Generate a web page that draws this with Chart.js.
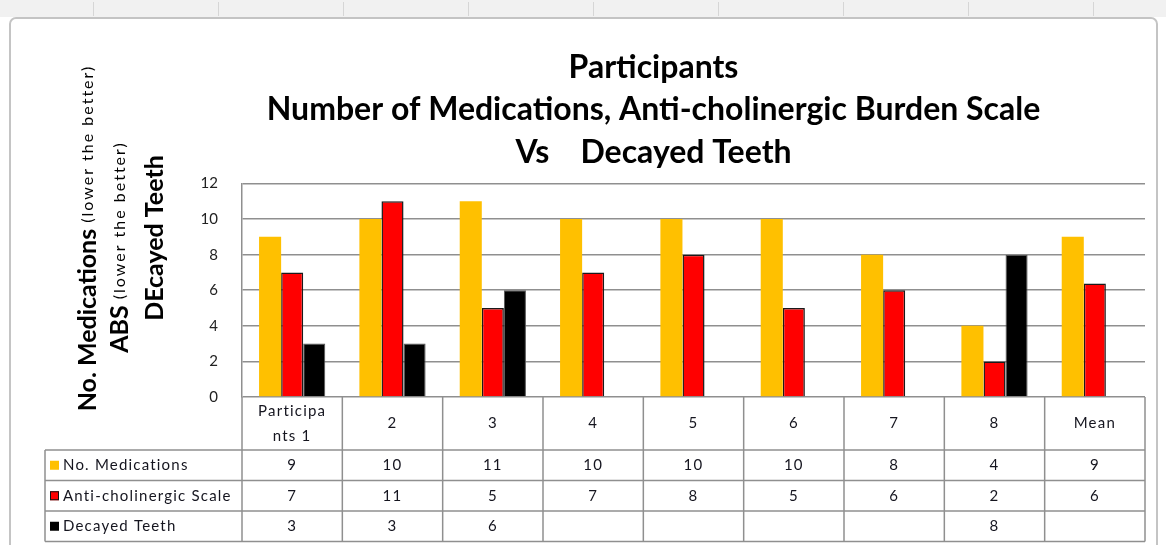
<!DOCTYPE html>
<html>
<head>
<meta charset="utf-8">
<script src="https://cdn.jsdelivr.net/npm/chart.js@4.4.0/dist/chart.umd.min.js"></script>
<style>
html, body { margin: 0; padding: 0; background: #fff; }
#wrap { position: relative; width: 1166px; height: 545px; }
</style>
</head>
<body>
<div id="wrap"><canvas id="chart" width="1166" height="545"></canvas></div>
<script>
// data
const categories = [['Participa', 'nts 1'], '2', '3', '4', '5', '6', '7', '8', 'Mean'];
const seriesNames = ['No. Medications', 'Anti-cholinergic Scale', 'Decayed Teeth'];
const medications = [9, 10, 11, 10, 10, 10, 8, 4, 9];
const absScale = [7, 11, 5, 7, 8, 5, 6, 2, 6.375];
const decayedTeeth = [3, 3, 6, null, null, null, null, 8, null];
const titleLines = ['Participants', 'Number of Medications, Anti-cholinergic Burden Scale', 'Vs    Decayed Teeth'];
const yMax = 12;
const yStep = 2;

const seriesColors = ['#ffc000', '#ff0000', '#000000'];
const seriesBorders = ['#ffc000', '#1a1a1a', '#555555'];
const FONT = 'Lato, "Open Sans", sans-serif';
const gridColor = '#8f8f8f';
const textColor = '#15151f';

// background frame, like the excel chart area
const framePlugin = {
    id: 'frame',
    beforeDraw(chart) {
        const ctx = chart.ctx;
        ctx.save();
        ctx.fillStyle = '#fff';
        ctx.fillRect(0, 0, chart.width, chart.height);
        ctx.fillStyle = '#f1f1f1';
        ctx.fillRect(0, 0, chart.width, 17);
        ctx.strokeStyle = '#d6d6d6';
        ctx.lineWidth = 1;
        for (let x = 93; x < chart.width; x += 125) {
            ctx.beginPath();
            ctx.moveTo(x + 0.5, 2);
            ctx.lineTo(x + 0.5, 16);
            ctx.stroke();
        }
        ctx.strokeStyle = '#c4c4c4';
        ctx.lineWidth = 2;
        ctx.beginPath();
        ctx.roundRect(10, 18, 1147, 540, 6);
        ctx.stroke();
        ctx.restore();
    }
};

// rotated axis titles with mixed font sizes
const yTitlePlugin = {
    id: 'yTitles',
    afterDraw(chart) {
        const ctx = chart.ctx;
        const big = 'bold 25px ' + FONT;
        const small = '16px ' + FONT;
        const lines = [
            { x: 88, cy: 238, parts: [[big, 'No. Medications', 0], [small, ' (lower the better)', 2]] },
            { x: 120, cy: 247, parts: [[big, 'ABS', 0], [small, ' (lower the better)', 2]] },
            { x: 155, cy: 238, parts: [[big, 'DEcayed Teeth', 0]] }
        ];
        ctx.save();
        ctx.fillStyle = '#000';
        ctx.textBaseline = 'middle';
        ctx.textAlign = 'left';
        const setFont = (p) => { ctx.font = p[0]; ctx.letterSpacing = p[2] + 'px'; };
        for (const ln of lines) {
            let total = 0;
            for (const p of ln.parts) { setFont(p); total += ctx.measureText(p[1]).width; }
            ctx.save();
            ctx.translate(ln.x, ln.cy);
            ctx.rotate(-Math.PI / 2);
            let pos = -total / 2;
            for (const p of ln.parts) {
                setFont(p);
                ctx.fillText(p[1], pos, 0);
                pos += ctx.measureText(p[1]).width;
            }
            ctx.restore();
        }
        ctx.restore();
    }
};

// data table under the plot
const tablePlugin = {
    id: 'dataTable',
    afterDraw(chart) {
        const ctx = chart.ctx;
        const xs = chart.scales.x;
        const area = chart.chartArea;
        const n = categories.length;
        const colW = (area.right - area.left) / n;
        const top = area.bottom;
        const headBottom = top + 53;
        const rowH = 30.5;
        const bottom = headBottom + rowH * 3;
        const labelLeft = 45;

        ctx.save();
        ctx.strokeStyle = gridColor;
        ctx.lineWidth = 1.5;
        for (let i = 0; i <= n; i++) {
            const x = area.left + i * colW;
            ctx.beginPath();
            ctx.moveTo(x, top);
            ctx.lineTo(x, bottom);
            ctx.stroke();
        }
        ctx.beginPath();
        ctx.moveTo(labelLeft, headBottom);
        ctx.lineTo(labelLeft, bottom);
        ctx.stroke();
        for (let r = 0; r <= 3; r++) {
            const y = headBottom + r * rowH;
            ctx.beginPath();
            ctx.moveTo(labelLeft, y);
            ctx.lineTo(area.right, y);
            ctx.stroke();
        }

        ctx.fillStyle = textColor;
        ctx.font = '15px ' + FONT;
        ctx.letterSpacing = '1.2px';
        ctx.textAlign = 'center';
        ctx.textBaseline = 'middle';
        categories.forEach((lab, i) => {
            const cx = xs.getPixelForValue(i);
            const parts = Array.isArray(lab) ? lab : [lab];
            const lh = 25;
            parts.forEach((t, k) => {
                ctx.fillText(t, cx, top + 53 / 2 + (k - (parts.length - 1) / 2) * lh);
            });
        });

        const series = [medications, absScale, decayedTeeth];
        series.forEach((vals, r) => {
            const cy = headBottom + r * rowH + rowH / 2;
            // legend key
            ctx.fillStyle = seriesColors[r];
            ctx.fillRect(labelLeft + 5, cy - 4.5, 9, 9);
            if (r === 1) {
                ctx.strokeStyle = '#111';
                ctx.lineWidth = 1;
                ctx.strokeRect(labelLeft + 5.5, cy - 4, 8, 8);
            }
            ctx.fillStyle = textColor;
            ctx.textAlign = 'left';
            ctx.fillText(seriesNames[r], labelLeft + 18, cy);
            ctx.textAlign = 'center';
            vals.forEach((v, i) => {
                if (v === null) return;
                ctx.fillText(String(Math.round(v)), xs.getPixelForValue(i), cy);
            });
        });
        ctx.restore();
    }
};

const chart = new Chart(document.getElementById('chart'), {
    type: 'bar',
    plugins: [framePlugin, yTitlePlugin, tablePlugin],
    data: {
        labels: categories,
        datasets: [
            { label: seriesNames[0], data: medications, backgroundColor: seriesColors[0], borderColor: seriesBorders[0], borderWidth: 0 },
            { label: seriesNames[1], data: absScale, backgroundColor: seriesColors[1], borderColor: seriesBorders[1], borderWidth: 1.5 },
            { label: seriesNames[2], data: decayedTeeth, backgroundColor: seriesColors[2], borderColor: seriesBorders[2], borderWidth: 1 }
        ]
    },
    options: {
        responsive: false,
        animation: false,
        layout: { padding: { left: 162, right: 21, top: 0, bottom: 148 } },
        datasets: { bar: { categoryPercentage: 0.66, barPercentage: 1 } },
        scales: {
            x: { display: false },
            y: {
                min: 0,
                max: yMax,
                afterFit(scale) { scale.width = 80; },
                ticks: { stepSize: yStep, padding: 24, color: '#222', font: { family: FONT, size: 15 } },
                grid: { color: gridColor, lineWidth: 1.5, drawTicks: false },
                border: { display: true, color: gridColor, width: 1.5 }
            }
        },
        plugins: {
            legend: { display: false },
            tooltip: { enabled: false },
            title: {
                display: true,
                text: titleLines,
                color: '#000',
                font: { family: FONT, size: 32, weight: 'bold', lineHeight: 1.328 },
                padding: { top: 46, bottom: 10 }
            }
        }
    }
});
</script>
</body>
</html>
